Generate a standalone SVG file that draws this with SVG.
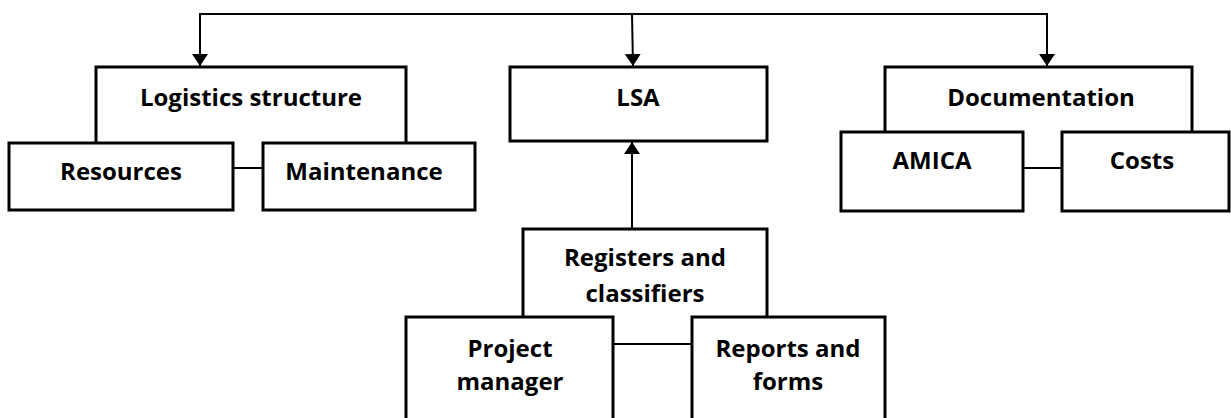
<svg xmlns="http://www.w3.org/2000/svg" width="1231" height="418" viewBox="0 0 1231 418">
  <style>
    .box { fill: #ffffff; stroke: #000000; stroke-width: 3; }
    .frame { fill: #ffffff; stroke: #000000; stroke-width: 3; }
    .link { fill: none; stroke: #000000; stroke-width: 2; }
    .label { font-family: "Open Sans", "Liberation Sans", sans-serif; font-weight: bold; font-size: 24px; fill: #000000; text-anchor: middle; }
  </style>
  <defs>
    <marker id="arrow" viewBox="0 0 12 16" refX="12" refY="8" markerWidth="12" markerHeight="16" markerUnits="userSpaceOnUse" orient="auto">
      <path d="M0,0 L12,8 L0,16 Z" fill="#000000"/>
    </marker>
  </defs>

  <!-- connectors -->
  <g id="connectors">
    <line class="link" x1="200" y1="14" x2="1047" y2="14"/>
    <line class="link" x1="200" y1="13" x2="200" y2="66" marker-end="url(#arrow)"/>
    <line class="link" x1="632" y1="14" x2="633" y2="66" marker-end="url(#arrow)"/>
    <line class="link" x1="1047" y1="13" x2="1047" y2="66" marker-end="url(#arrow)"/>
    <line class="link" x1="632" y1="229" x2="632" y2="142" marker-end="url(#arrow)"/>
    <line class="link" x1="233" y1="168" x2="263" y2="168"/>
    <line class="link" x1="1023" y1="168" x2="1062" y2="168"/>
    <line class="link" x1="613" y1="344" x2="692" y2="344"/>
  </g>

  <!-- logistics structure group: parent frame is open at the bottom, children sit over it -->
  <g id="logistics-structure">
    <path class="frame" d="M96,143 V67 H406 V143"/>
    <text class="label" x="251" y="106">Logistics structure</text>
  </g>
  <g id="resources">
    <rect class="box" x="9" y="143" width="224" height="67"/>
    <text class="label" x="121" y="180">Resources</text>
  </g>
  <g id="maintenance">
    <rect class="box" x="263" y="143" width="212" height="67"/>
    <text class="label" x="364" y="180">Maintenance</text>
  </g>

  <!-- LSA -->
  <g id="lsa">
    <rect class="box" x="510" y="67" width="257" height="74"/>
    <text class="label" x="638" y="106">LSA</text>
  </g>

  <!-- documentation group -->
  <g id="documentation">
    <path class="frame" d="M885,132 V67 H1192 V132"/>
    <text class="label" x="1041" y="106">Documentation</text>
  </g>
  <g id="amica">
    <rect class="box" x="841" y="132" width="182" height="79"/>
    <text class="label" x="932" y="169">AMICA</text>
  </g>
  <g id="costs">
    <rect class="box" x="1062" y="132" width="167" height="79"/>
    <text class="label" x="1142" y="169">Costs</text>
  </g>

  <!-- registers group -->
  <g id="registers-and-classifiers">
    <path class="frame" d="M523,317 V229 H767 V317"/>
    <text class="label" x="645" y="266">Registers and</text>
    <text class="label" x="645" y="302">classifiers</text>
  </g>
  <g id="project-manager">
    <rect class="box" x="406" y="317" width="207" height="110"/>
    <text class="label" x="510" y="357">Project</text>
    <text class="label" x="510" y="390">manager</text>
  </g>
  <g id="reports-and-forms">
    <rect class="box" x="692" y="317" width="193" height="110"/>
    <text class="label" x="788" y="357">Reports and</text>
    <text class="label" x="788" y="390">forms</text>
  </g>
</svg>
